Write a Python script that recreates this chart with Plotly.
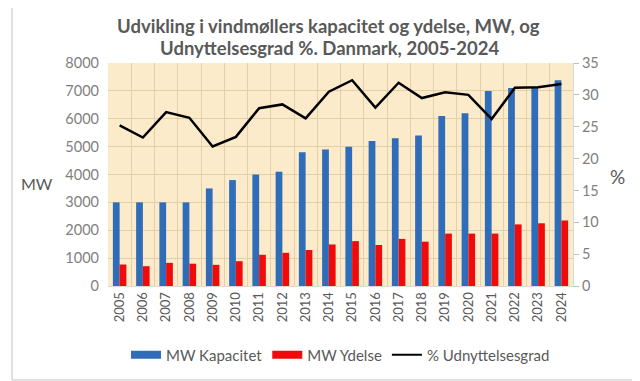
import plotly.graph_objects as go

years = [str(y) for y in range(2005, 2025)]
kapacitet = [3000, 3000, 3000, 3000, 3500, 3800, 4000, 4100, 4800, 4900,
             5000, 5200, 5300, 5400, 6100, 6200, 7000, 7100, 7150, 7380]
ydelse = [770, 710, 830, 800, 760, 890, 1120, 1190, 1290, 1490,
          1610, 1470, 1690, 1590, 1880, 1880, 1880, 2210, 2250, 2350]
udnyttelse = [25.2, 23.3, 27.3, 26.4, 21.9, 23.4, 27.9, 28.5, 26.3, 30.5,
              32.3, 28.0, 31.9, 29.5, 30.4, 30.0, 26.2, 31.1, 31.2, 31.7]
title_lines = ["Udvikling i vindmøllers kapacitet og ydelse, MW, og",
               "Udnyttelsesgrad %. Danmark, 2005-2024"]

font_family = "Lato, 'Open Sans', sans-serif"
grey = "#7f7f7f"
blue = "#2f6db8"
red = "#f00a0a"

fig = go.Figure()
fig.add_trace(go.Bar(x=years, y=kapacitet, name="MW Kapacitet", showlegend=False,
                     marker=dict(color=blue, line=dict(width=0))))
fig.add_trace(go.Bar(x=years, y=ydelse, name="MW Ydelse", showlegend=False,
                     marker=dict(color=red, line=dict(width=0))))
fig.add_trace(go.Scatter(x=years, y=udnyttelse, name="% Udnyttelsesgrad",
                         yaxis="y2", mode="lines", showlegend=False,
                         line=dict(color="black", width=2.5)))
# legend entries (wide rectangles as in the original)
fig.add_trace(go.Scatter(x=[None], y=[None], mode="lines", name="MW Kapacitet",
                         line=dict(color=blue, width=8)))
fig.add_trace(go.Scatter(x=[None], y=[None], mode="lines", name="MW Ydelse",
                         line=dict(color=red, width=8)))
fig.add_trace(go.Scatter(x=[None], y=[None], mode="lines", name="% Udnyttelsesgrad",
                         line=dict(color="black", width=2)))

L, R, T, B = 100, 75, 55, 103
W, H = 640, 381
pw, ph = W - L - R, H - T - B

def px(x):
    return (x - L) / pw

def py(y):
    return (H - B - y) / ph

annotations = [
    dict(text="<b>%s</b>" % title_lines[0], x=px(320), y=py(18),
         xref="paper", yref="paper", xanchor="center", yanchor="middle",
         showarrow=False, font=dict(size=18.5, color="#595959")),
    dict(text="<b>%s</b>" % title_lines[1], x=px(321), y=py(40),
         xref="paper", yref="paper", xanchor="center", yanchor="middle",
         showarrow=False, font=dict(size=18.5, color="#595959")),
    dict(text="MW", x=px(29), y=py(175), xref="paper", yref="paper",
         xanchor="center", yanchor="middle",
         showarrow=False, font=dict(size=16, color="#595959")),
    dict(text="%", x=px(609), y=py(168), xref="paper", yref="paper",
         xanchor="center", yanchor="middle",
         showarrow=False, font=dict(size=19, color="#595959")),
]

fig.update_layout(
    width=W, height=H,
    margin=dict(l=L, r=R, t=T, b=B),
    paper_bgcolor="white",
    plot_bgcolor="#fcebca",
    font=dict(family=font_family, color=grey, size=14),
    barmode="group", bargap=0.42, bargroupgap=0.0,
    xaxis=dict(type="category", tickson="boundaries", showgrid=True,
               gridcolor="#e3cfa8", gridwidth=1, tickangle=-90,
               tickfont=dict(size=13, color="#595959"), ticks="",
               showline=True, linecolor="#d9d9d9", linewidth=1),
    yaxis=dict(range=[0, 8000], dtick=1000, showgrid=True,
               gridcolor="#e3cfa8", gridwidth=1, zeroline=False,
               tickfont=dict(size=14.5, color=grey), ticks="",
               ticklabelstandoff=8),
    yaxis2=dict(range=[0, 35], dtick=5, overlaying="y", side="right",
                showgrid=False, zeroline=False, showline=True,
                linecolor="#d9d9d9", ticks="outside", ticklen=5,
                tickcolor="#bfbfbf",
                tickfont=dict(size=14.5, color=grey)),
    legend=dict(orientation="h", x=0.5, xanchor="center", y=py(347),
                yanchor="middle", font=dict(size=15, color="#595959"),
                itemwidth=30, traceorder="normal", bgcolor="rgba(0,0,0,0)"),
    annotations=annotations,
    shapes=[
        dict(type="line", xref="paper", yref="paper", x0=px(4), x1=px(4),
             y0=py(0), y1=py(372), line=dict(color="#e0e0e0", width=2)),
        dict(type="line", xref="paper", yref="paper", x0=px(4), x1=px(634),
             y0=py(372), y1=py(372), line=dict(color="#e0e0e0", width=2)),
        dict(type="line", xref="paper", yref="paper", x0=px(634), x1=px(634),
             y0=py(0), y1=py(372), line=dict(color="#e0e0e0", width=2)),
        dict(type="line", xref="paper", yref="paper", x0=px(638.5), x1=px(638.5),
             y0=py(0), y1=py(381), line=dict(color="#222222", width=2)),
    ],
)

fig.write_html("out.html")
